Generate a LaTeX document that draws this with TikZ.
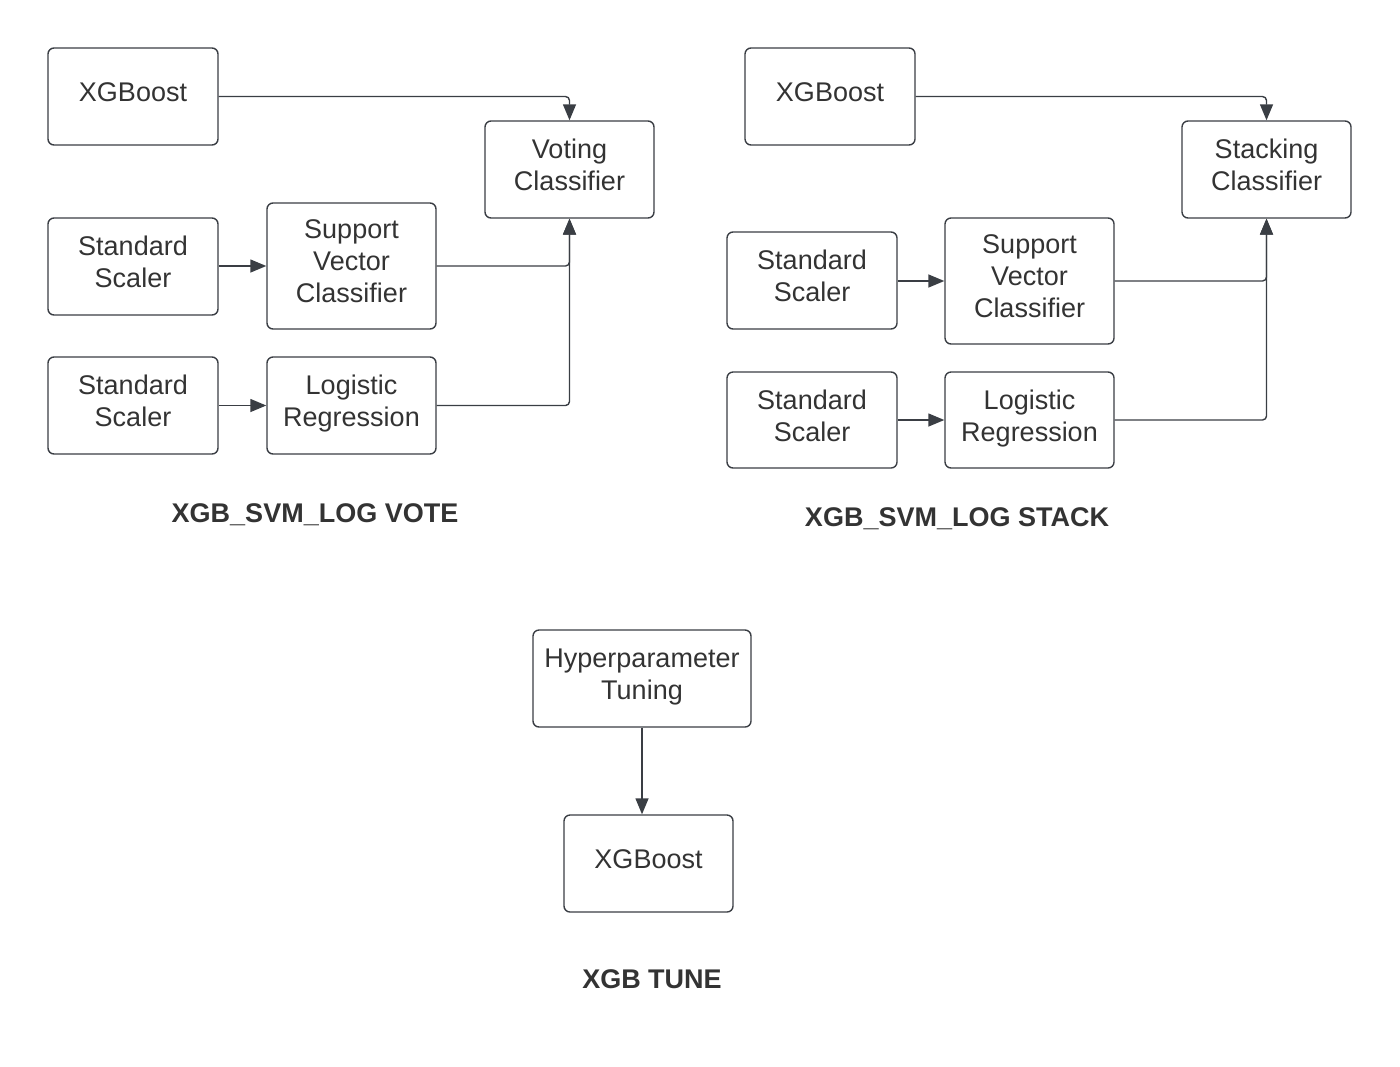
\documentclass[tikz,border=0pt]{standalone}
\usepackage{fontspec}
\setmainfont{Liberation Sans}
\usetikzlibrary{arrows.meta}
\definecolor{ink}{RGB}{51,51,51}
\definecolor{edge}{RGB}{58,62,68}
\tikzset{
  box/.style={draw=edge, line width=0.7pt, rounded corners=3pt, align=center,
    text=ink, inner sep=0pt, text depth=4.5pt,
    font=\fontsize{13.5}{16}\selectfont},
  arr/.style={draw=edge, line width=0.7pt, rounded corners=2pt,
    -{Triangle[length=8pt,width=6.5pt]}},
  title/.style={text=ink, font=\fontsize{13.5}{16}\selectfont\bfseries}
}
\begin{document}
\begin{tikzpicture}[x=0.5pt,y=-0.5pt]
\useasboundingbox (0,0) rectangle (1400,1066);
% left group
\node[box, minimum width=85pt, minimum height=48.5pt] (xgb1) at (133,96.5) {XGBoost};
\node[box, minimum width=84.5pt, minimum height=48.5pt] (vote) at (569.5,169.5) {Voting\\Classifier};
\node[box, minimum width=85pt, minimum height=48.5pt] (ss1) at (133,266.5) {Standard\\Scaler};
\node[box, minimum width=84.5pt, minimum height=63pt] (svc1) at (351.5,266) {Support\\Vector\\Classifier};
\node[box, minimum width=85pt, minimum height=48.5pt] (ss2) at (133,405.5) {Standard\\Scaler};
\node[box, minimum width=84.5pt, minimum height=48.5pt] (lr1) at (351.5,405.5) {Logistic\\Regression};
\node[title] (t1) at (315,515) {XGB\_SVM\_LOG VOTE};
\draw[arr] (xgb1.east) -| (vote.north);
\draw[arr] (ss1.east |- svc1.west) -- (svc1.west);
\draw[arr] (ss2.east) -- (lr1.west);
\draw[arr] (svc1.east) -| (vote.south);
\draw[arr] (lr1.east) -| (vote.south);
% right group
\node[box, minimum width=85pt, minimum height=48.5pt] (xgb2) at (830,96.5) {XGBoost};
\node[box, minimum width=84.5pt, minimum height=48.5pt] (stack) at (1266.5,169.5) {Stacking\\Classifier};
\node[box, minimum width=85pt, minimum height=48.5pt] (ss3) at (812,280.5) {Standard\\Scaler};
\node[box, minimum width=84.5pt, minimum height=63pt] (svc2) at (1029.5,281) {Support\\Vector\\Classifier};
\node[box, minimum width=85pt, minimum height=48pt] (ss4) at (812,420) {Standard\\Scaler};
\node[box, minimum width=84.5pt, minimum height=48pt] (lr2) at (1029.5,420) {Logistic\\Regression};
\node[title] (t2) at (957,519) {XGB\_SVM\_LOG STACK};
\draw[arr] (xgb2.east) -| (stack.north);
\draw[arr] (ss3.east |- svc2.west) -- (svc2.west);
\draw[arr] (ss4.east) -- (lr2.west);
\draw[arr] (svc2.east) -| (stack.south);
\draw[arr] (lr2.east) -| (stack.south);
% bottom group
\node[box, minimum width=109pt, minimum height=48.5pt] (hyp) at (642,678.5) {Hyperparameter\\Tuning};
\node[box, minimum width=84.5pt, minimum height=48.5pt] (xgb3) at (648.5,863.5) {XGBoost};
\node[title] (t3) at (652,979) {XGB TUNE};
\draw[arr] (hyp.south) -- (hyp.south |- xgb3.north);
\end{tikzpicture}
\end{document}
